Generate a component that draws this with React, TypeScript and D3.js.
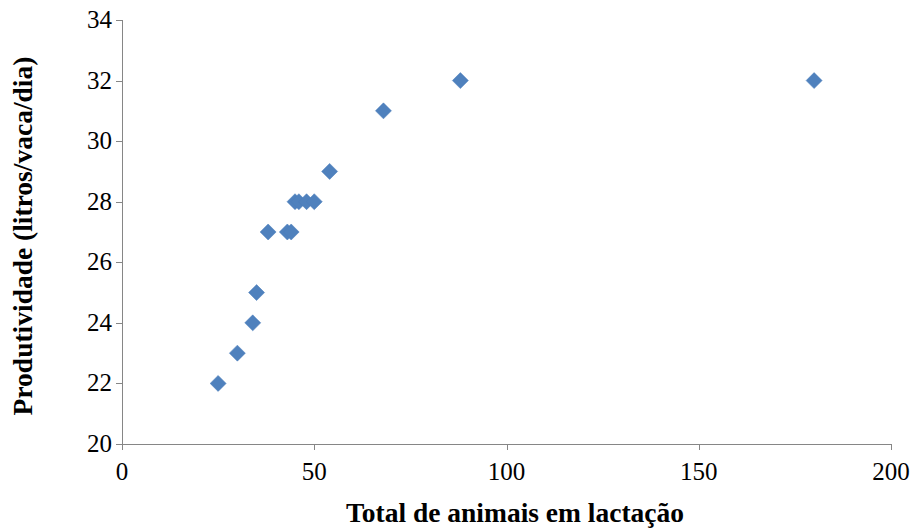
import React from "react";
import * as d3 from "d3";

const animais: number[] = [25, 30, 34, 35, 38, 43, 44, 45, 46, 48, 50, 54, 68, 88, 180];
const produtividade: number[] = [22, 23, 24, 25, 27, 27, 27, 28, 28, 28, 28, 29, 31, 32, 32];
const xTicks: number[] = [0, 50, 100, 150, 200];
const yTicks: number[] = [20, 22, 24, 26, 28, 30, 32, 34];
const xTitle = "Total de animais em lactação";
const yTitle = "Produtividade (litros/vaca/dia)";

export default function App() {
  const W = 914, H = 529;
  const x = d3.scaleLinear().domain([0, 200]).range([122, 891]);
  const y = d3.scaleLinear().domain([20, 34]).range([444, 20]);
  const sym = d3.symbol().type(d3.symbolSquare).size(128)();
  const font = "Liberation Serif, Times New Roman, DejaVu Serif, serif";
  const tStyle = { fontFamily: font };
  return (
    <svg width={W} height={H} style={{ position: "absolute", left: 0, top: 0 }}>
      <rect width={W} height={H} fill="#fff" />
      <g stroke="#868686" strokeWidth={1}>
        <line x1={x(0)} x2={x(200)} y1={y(20) + 0.5} y2={y(20) + 0.5} />
        <line x1={x(0) + 0.5} x2={x(0) + 0.5} y1={y(34)} y2={y(20)} />
        {xTicks.map((t) => (
          <line key={"xt" + t} x1={Math.round(x(t)) + 0.5} x2={Math.round(x(t)) + 0.5} y1={y(20)} y2={y(20) + 6} />
        ))}
        {yTicks.map((t) => (
          <line key={"yt" + t} x1={x(0) - 6} x2={x(0)} y1={Math.round(y(t)) + 0.5} y2={Math.round(y(t)) + 0.5} />
        ))}
      </g>
      <g style={tStyle} fontSize={25} fill="#000">
        {xTicks.map((t) => (
          <text key={"xl" + t} x={x(t)} y={480} textAnchor="middle" style={tStyle}>{t}</text>
        ))}
        {yTicks.map((t) => (
          <text key={"yl" + t} x={112} y={y(t) + 8} textAnchor="end" style={tStyle}>{t}</text>
        ))}
      </g>
      <text x={515} y={522} textAnchor="middle" style={tStyle} fontWeight="bold" fontSize={27.5}>{xTitle}</text>
      <text transform={`translate(32, 236) rotate(-90)`} textAnchor="middle" style={tStyle} fontWeight="bold" fontSize={27.5}>{yTitle}</text>
      <g>
        {animais.map((a, i) => (
          <path
            key={i}
            d={sym || ""}
            transform={`translate(${x(a)},${y(produtividade[i])}) rotate(45)`}
            fill="#4F81BD"
            stroke="#4A7EBB"
            strokeWidth={0.5}
          />
        ))}
      </g>
    </svg>
  );
}
